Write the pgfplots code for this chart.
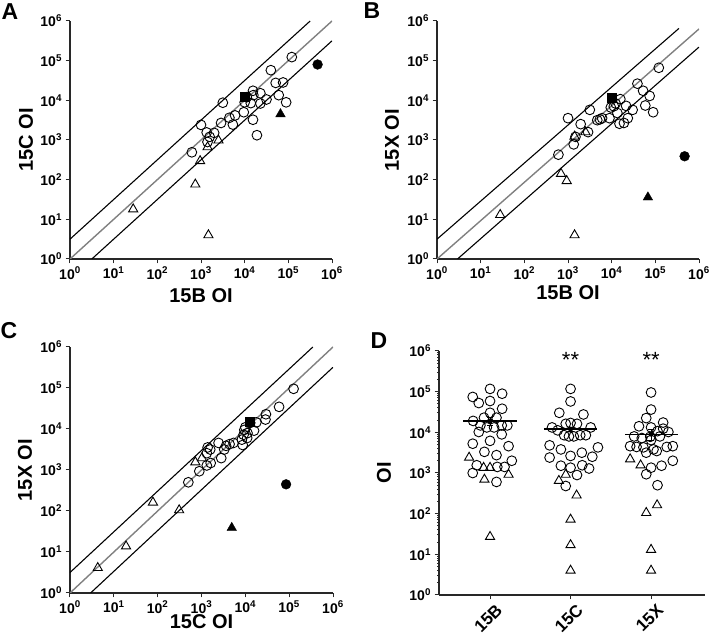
\documentclass[border=0pt]{standalone}
\usepackage{pgfplots}
\pgfplotsset{compat=1.18}
\usepackage{fontspec}
\setmainfont{Liberation Sans}
\definecolor{lgray}{RGB}{128,128,128}
\definecolor{axgray}{RGB}{40,40,40}
\pgfplotsset{
  mypanelstyle/.style={
    scale only axis, anchor=south west,
    axis lines*=left,
    xmin=1, xmax=1e6, ymin=1, ymax=1e6,
    xtick={1,10,100,1000,10000,100000,1000000},
    ytick={1,10,100,1000,10000,100000,1000000},
    xticklabels={10\textsuperscript{0},10\textsuperscript{1},10\textsuperscript{2},10\textsuperscript{3},10\textsuperscript{4},10\textsuperscript{5},10\textsuperscript{6}},
    yticklabels={10\textsuperscript{0},10\textsuperscript{1},10\textsuperscript{2},10\textsuperscript{3},10\textsuperscript{4},10\textsuperscript{5},10\textsuperscript{6}},
    xminorticks=false, yminorticks=false,
    tick align=outside, major tick length=4.5pt,
    axis line style={line width=1.5pt, axgray},
    every tick/.style={line width=1pt, axgray},
    tick label style={font=\bfseries\fontsize{14}{14}\selectfont},
    label style={font=\bfseries\fontsize{20}{20}\selectfont},
  },
  mkcirc/.style={only marks, mark=o, mark size=4.9pt, mark options={line width=0.9pt, black}},
  mktri/.style={only marks, mark=triangle, mark size=5.3pt, mark options={line width=0.9pt, black}},
  mkfcirc/.style={only marks, mark=*, mark size=4.9pt, mark options={black, fill=black}},
  mkftri/.style={only marks, mark=triangle*, mark size=5.5pt, mark options={black, fill=black}},
  mkfsq/.style={only marks, mark=square*, mark size=4.5pt, mark options={black, fill=black}},
  mkdline/.style={black, line width=1.1pt, no marks},
  mkgline/.style={lgray, line width=1.4pt, no marks},
}
\begin{document}
\begin{tikzpicture}
\useasboundingbox (0,0) rectangle (714pt,639pt);
% ---------- A ----------
\begin{axis}[xmode=log, ymode=log, mypanelstyle, at={(70pt,380pt)}, width=262pt, height=238pt,
  xlabel={15B OI}, ylabel={15C OI},
  xlabel style={at={(axis description cs:0.5,-0.155)}, anchor=center},
  ylabel style={at={(axis description cs:-0.168,0.5)}, anchor=center}]
\addplot[mkgline] coordinates {(1,1) (1e6,1e6)};
\addplot[mkdline] coordinates {(1,3.162) (3.162e5,1e6)};
\addplot[mkdline] coordinates {(3.162,1) (1e6,3.162e5)};
\addplot[mkcirc] coordinates {
(1.2e5,1.23e5) (3.98e4,5.75e4) (5.13e4,2.75e4) (7.59e4,2.82e4) (6.03e4,1.35e4)
(8.91e4,8.91e3) (3.16e4,1.05e4) (2.29e4,1.51e4) (1.55e4,1.74e4) (2.29e4,8.32e3)
(1.38e4,8.51e3) (1.0e4,8.91e3) (3.16e3,8.71e3) (1.55e4,3.24e3) (1.91e4,1.32e3)
(9.55e3,5.01e3) (6.03e3,4.17e3) (4.47e3,3.63e3) (5.37e3,2.45e3) (2.88e3,2.69e3)
(1.0e3,2.4e3) (1.35e3,1.55e3) (2.0e3,1.51e3) (1.58e3,1.2e3) (1.41e3,8.91e2)
(6.17e2,4.9e2) (1.12e4,1.2e4) (1.58e4,1.35e4)};
\addplot[mktri] coordinates {(28,18) (741,76) (955,295) (1413,661) (2512,977) (1479,4)};
\addplot[mkfsq] coordinates {(1.0e4,1.26e4)};
\addplot[mkfcirc] coordinates {(4.68e5,8.0e4)};
\addplot[mkftri] coordinates {(6.61e4,4.5e3)};
\end{axis}
\node[font=\bfseries\fontsize{23}{23}\selectfont] at (10pt,627pt) {A};
% ---------- B ----------
\begin{axis}[xmode=log, ymode=log, mypanelstyle, at={(437pt,380pt)}, width=262pt, height=238pt,
  xlabel={15B OI}, ylabel={15X OI},
  xlabel style={at={(axis description cs:0.5,-0.143)}, anchor=center},
  ylabel style={at={(axis description cs:-0.172,0.5)}, anchor=center}]
\addplot[mkgline] coordinates {(1,1) (1e6,6.3e5)};
\addplot[mkdline] coordinates {(1,3.162) (3.47e5,6.5e5)};
\addplot[mkdline] coordinates {(2.95,1) (1e6,2.2e5)};
\addplot[mkcirc] coordinates {
(1.2e5,6.61e4) (3.89e4,2.63e4) (5.25e4,1.74e4) (7.41e4,1.29e4) (5.89e4,7.41e3)
(8.91e4,5.01e3) (3.02e4,5.75e3) (2.14e4,7.24e3) (1.58e4,1.07e4) (1.23e4,8.32e3)
(9.55e3,6.61e3) (1.35e4,4.79e3) (2.34e4,3.55e3) (1.91e4,2.69e3) (1.51e4,2.57e3)
(8.91e3,3.55e3) (6.03e3,3.55e3) (4.68e3,3.16e3) (3.16e3,5.75e3) (1.0e3,3.55e3)
(1.95e3,2.51e3) (2.88e3,1.58e3) (1.48e3,1.2e3) (1.35e3,7.76e2) (6.03e2,4.27e2)
(1.12e4,7.08e3) (5.37e3,3.31e3)};
\addplot[mktri] coordinates {(28,13) (692,141) (933,93) (1413,4) (1413,1230) (2512,1585)};
\addplot[mkfsq] coordinates {(1.0e4,1.17e4)};
\addplot[mkfcirc] coordinates {(4.68e5,389)};
\addplot[mkftri] coordinates {(6.76e4,36)};
\end{axis}
\node[font=\bfseries\fontsize{23}{23}\selectfont] at (372pt,628pt) {B};
% ---------- C ----------
\begin{axis}[xmode=log, ymode=log, mypanelstyle, at={(70pt,46pt)}, width=263pt, height=246pt,
  xlabel={15C OI}, ylabel={15X OI},
  xlabel style={at={(axis description cs:0.5,-0.118)}, anchor=center},
  ylabel style={at={(axis description cs:-0.171,0.5)}, anchor=center}]
\addplot[mkgline] coordinates {(1,1) (1e6,1e6)};
\addplot[mkdline] coordinates {(1,3.162) (3.47e5,1e6)};
\addplot[mkdline] coordinates {(2.95,1) (1e6,3.2e5)};
\addplot[mkcirc] coordinates {
(1.26e5,9.55e4) (5.89e4,3.47e4) (2.95e4,2.29e4) (2.88e4,1.7e4) (1.78e4,1.45e4)
(1.58e4,9.12e3) (1.29e4,1.41e4) (1.12e4,7.94e3) (9.12e3,7.24e3) (1.1e4,6.03e3)
(8.32e3,5.5e3) (5.37e3,4.57e3) (4.37e3,4.27e3) (3.63e3,3.89e3) (3.31e3,3.16e3)
(2.82e3,1.95e3) (2.45e3,4.57e3) (1.58e3,3.16e3) (1.38e3,3.55e3) (1.32e3,2.57e3)
(1.62e3,1.48e3) (1.32e3,1.29e3) (891,933) (501,501) (8.71e3,4.07e3)
(9.5e3,9.5e3) (1.0e4,1.1e4)};
\addplot[mktri] coordinates {(4.3,4.1) (19,13.8) (78,162) (309,105) (724,1549) (1023,1950)};
\addplot[mkfsq] coordinates {(1.23e4,1.51e4)};
\addplot[mkfcirc] coordinates {(8.51e4,447)};
\addplot[mkftri] coordinates {(4.9e3,39)};
\end{axis}
\node[font=\bfseries\fontsize{23}{23}\selectfont] at (9pt,308pt) {C};
% ---------- D ----------
\begin{axis}[xmode=linear, ymode=log, mypanelstyle, at={(439pt,44pt)}, width=266pt, height=244pt,
  xmin=0.366, xmax=3.67,
  xtick={1,2,3}, xticklabels={15B,15C,15X},
  yminorticks=true, minor tick length=2pt,
  x tick label style={xshift=5pt, yshift=-2pt, font=\bfseries\fontsize{17}{17}\selectfont, rotate=45, anchor=north east, inner sep=1pt},
  ylabel={OI},
  ylabel style={at={(axis description cs:-0.207,0.5)}, anchor=center},
  clip=false]
\addplot[mkcirc] coordinates {
(1.00,1.17e5) (0.785,7.41e4) (1.15,8.91e4) (0.86,5.25e4) (1.00,5.89e4) (1.15,3.8e4)
(1.00,3.02e4) (0.79,1.91e4) (0.925,2.29e4) (1.08,2.29e4) (0.88,1.48e4) (0.96,1.32e4)
(1.05,1.32e4) (1.145,1.48e4) (1.215,1.48e4) (0.86,1.02e4) (1.145,8.91e3) (0.785,5.25e3)
(1.00,6.17e3) (1.23,4.57e3) (0.93,3.31e3) (1.08,2.75e3) (1.27,2.0e3) (0.835,1.55e3)
(1.09,1.41e3) (1.18,1.41e3) (0.785,1.0e3) (1.08,603)};
\addplot[mktri] coordinates {(0.74,2.4e3) (0.92,1.35e3) (1.00,1.35e3) (0.93,692) (1.23,912) (1.0,27)};
\addplot[mkcirc] coordinates {
(2,1.17e5) (2,5.75e4) (1.86,3.02e4) (2.16,2.75e4) (1.94,1.62e4) (2,1.7e4) (2.08,1.62e4)
(1.77,1.32e4) (1.84,1.12e4) (1.92,8.51e3) (1.98,7.94e3) (2.04,7.94e3) (2.12,8.51e3)
(2.19,8.51e3) (2.25,1.32e4) (1.74,4.79e3) (2.34,4.27e3) (1.88,3.8e3) (2.14,3.16e3)
(1.74,2.4e3) (2,2.63e3) (2.27,2.51e3) (1.88,1.51e3) (2,1.35e3) (2.145,1.55e3)
(2.23,1.29e3) (2.08,891) (1.94,479)};
\addplot[mktri] coordinates {(1.94,912) (1.855,646) (2.075,282) (2,72) (2,17) (2,4)};
\addplot[mkcirc] coordinates {
(3,9.55e4) (3,3.63e4) (2.94,2.24e4) (3.15,1.74e4) (2.85,1.41e4) (3,1.32e4) (3.08,1.07e4)
(3.15,1.23e4) (2.79,7.94e3) (2.885,7.24e3) (2.99,7.76e3) (3.11,7.94e3) (3.215,1.02e4)
(2.74,4.57e3) (2.82,4.37e3) (2.905,4.27e3) (3,6.46e3) (3.03,3.8e3) (2.94,3.16e3)
(3.07,3.47e3) (3.195,4.37e3) (3.27,4.57e3) (3,1.35e3) (3.13,1.51e3) (3.27,2.0e3)
(2.94,933) (3.08,501)};
\addplot[mktri] coordinates {(2.74,2.19e3) (2.87,1.55e3) (3.075,162) (2.94,105) (3,13) (3,4)};
\addplot[black, line width=1.3pt, no marks] coordinates {(0.67,1.9e4) (1.33,1.9e4)};
\addplot[black, line width=1.3pt, no marks] coordinates {(1.67,1.2e4) (2.33,1.2e4)};
\addplot[black, line width=1.3pt, no marks] coordinates {(2.68,9.0e3) (3.34,9.0e3)};
\addplot[black, line width=1pt, only marks, mark=none,
  error bars/.cd, y dir=both, y explicit, error bar style={line width=1pt}, error mark options={rotate=90, mark size=3pt, line width=1pt}]
  coordinates {(1,1.9e4) +- (0,4000) (2,1.2e4) +- (0,1500) (3,9.0e3) +- (0,2700)};
\node[font=\fontsize{22}{22}\selectfont] at (axis cs:2,6e5) {**};
\node[font=\fontsize{22}{22}\selectfont] at (axis cs:3,6e5) {**};
\end{axis}
\node[font=\bfseries\fontsize{23}{23}\selectfont] at (379pt,298pt) {D};
\end{tikzpicture}
\end{document}
